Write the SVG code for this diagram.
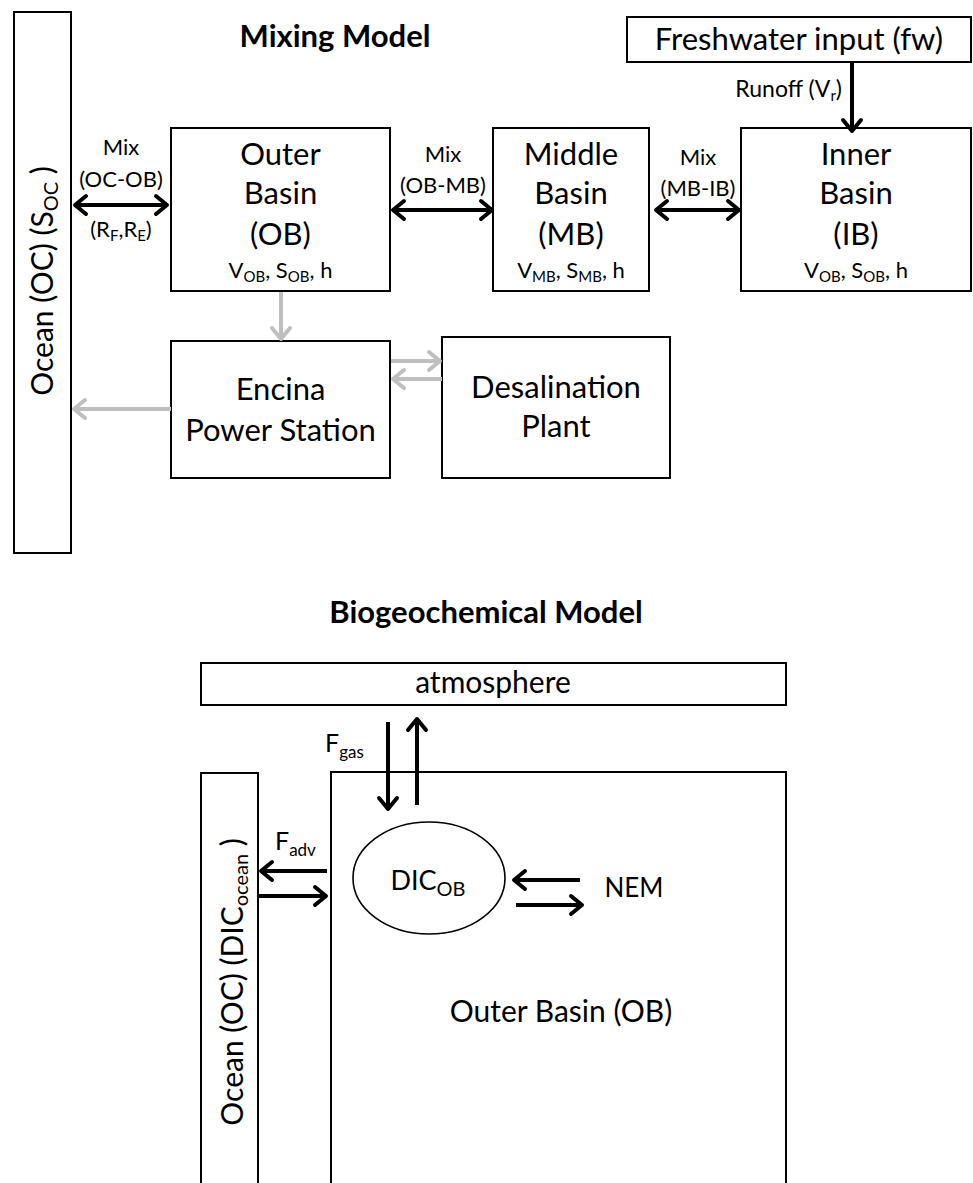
<svg xmlns="http://www.w3.org/2000/svg" width="973" height="1183" viewBox="0 0 973 1183">
<style>
text{font-family:Lato,"Open Sans","Liberation Sans",sans-serif;fill:#000;text-anchor:middle}
.box{fill:#fff;stroke:#000;stroke-width:2}
.big{font-size:31px}
.med{font-size:30px}
.sm{font-size:22px}
.xs{font-size:22px}
.title{font-size:31px;font-weight:bold}
.blk{fill:none;stroke:#000;stroke-width:4}
.gry{fill:none;stroke:#bfbfbf;stroke-width:4}
</style>
<defs>
<marker id="ab" viewBox="-16 -12 20 24" refX="0" refY="0" markerWidth="20" markerHeight="24" markerUnits="userSpaceOnUse" orient="auto-start-reverse" overflow="visible">
<path d="M-11,-9 L0,0 L-11,9" fill="none" stroke="#000" stroke-width="4" stroke-linecap="round" stroke-linejoin="round"/>
</marker>
<marker id="ag" viewBox="-16 -12 20 24" refX="0" refY="0" markerWidth="20" markerHeight="24" markerUnits="userSpaceOnUse" orient="auto-start-reverse" overflow="visible">
<path d="M-11,-9 L0,0 L-11,9" fill="none" stroke="#bfbfbf" stroke-width="4" stroke-linecap="round" stroke-linejoin="round"/>
</marker>
</defs>
<rect width="973" height="1183" fill="#fff"/>

<text class="title" x="335" y="47">Mixing Model</text>
<text class="title" x="486" y="623">Biogeochemical Model</text>

<g id="ocean-mix">
<rect class="box" x="14" y="12" width="57" height="541"/>
<text class="big" style="font-size:30px" transform="translate(53,281) rotate(-90)">Ocean (OC) (S<tspan font-size="20" dy="5">OC</tspan><tspan dy="-5"> )</tspan></text>
</g>
<g id="fw">
<rect class="box" x="627" y="17" width="344" height="45"/>
<text class="big" x="799" y="50">Freshwater input (fw)</text>
</g>
<g id="ob">
<rect class="box" x="171" y="128" width="219" height="163"/>
<text class="big" x="280.5" y="165">Outer</text>
<text class="big" x="280.5" y="204">Basin</text>
<text class="big" x="280.5" y="245">(OB)</text>
<text class="xs" x="280.5" y="278">V<tspan font-size="15" dy="4">OB</tspan><tspan dy="-4">, S</tspan><tspan font-size="15" dy="4">OB</tspan><tspan dy="-4">, h</tspan></text>
</g>
<g id="mb">
<rect class="box" x="493" y="128" width="156" height="163"/>
<text class="big" x="571" y="165">Middle</text>
<text class="big" x="571" y="204">Basin</text>
<text class="big" x="571" y="245">(MB)</text>
<text class="xs" x="571" y="278">V<tspan font-size="15" dy="4">MB</tspan><tspan dy="-4">, S</tspan><tspan font-size="15" dy="4">MB</tspan><tspan dy="-4">, h</tspan></text>
</g>
<g id="ib">
<rect class="box" x="741" y="128" width="230" height="163"/>
<text class="big" x="856" y="165">Inner</text>
<text class="big" x="856" y="204">Basin</text>
<text class="big" x="856" y="245">(IB)</text>
<text class="xs" x="856" y="278">V<tspan font-size="15" dy="4">OB</tspan><tspan dy="-4">, S</tspan><tspan font-size="15" dy="4">OB</tspan><tspan dy="-4">, h</tspan></text>
</g>
<g id="encina">
<rect class="box" x="171" y="341" width="219" height="137"/>
<text class="big" x="280.5" y="400">Encina</text>
<text class="big" x="280.5" y="441">Power Station</text>
</g>
<g id="desal">
<rect class="box" x="442" y="337" width="228" height="141"/>
<text class="big" x="556" y="398">Desalination</text>
<text class="big" x="556" y="437">Plant</text>
</g>

<g id="atm">
<rect class="box" x="201" y="663" width="585" height="42"/>
<text class="med" x="493" y="693">atmosphere</text>
</g>
<g id="ocean-bio">
<rect class="box" x="201" y="773" width="57" height="430"/>
<text class="big" style="font-size:30px" transform="translate(243,982) rotate(-90)">Ocean (OC) (DIC<tspan font-size="20" dy="5">ocean</tspan><tspan dy="-5"> )</tspan></text>
</g>
<g id="ob-bio">
<rect class="box" x="331" y="772" width="455" height="430"/>
<text class="med" x="561" y="1022">Outer Basin (OB)</text>
</g>
<g id="dic">
<ellipse cx="429" cy="878" rx="76" ry="56" fill="#fff" stroke="#000" stroke-width="1.6"/>
<text class="med" style="font-size:27px" x="428" y="890">DIC<tspan font-size="20" dy="6">OB</tspan></text>
</g>
<g id="nem">
<text class="med" style="font-size:26px" x="634" y="897">NEM</text>
</g>

<g id="connectors">
<path class="blk" d="M75,205 L167,205" marker-start="url(#ab)" marker-end="url(#ab)"/>
<path class="blk" d="M393,210 L492,210" marker-start="url(#ab)" marker-end="url(#ab)"/>
<path class="blk" d="M656,210 L739,210" marker-start="url(#ab)" marker-end="url(#ab)"/>
<path class="blk" d="M852,62 L852,131" marker-end="url(#ab)"/>
<path class="gry" d="M281,292 L281,339" marker-end="url(#ag)"/>
<path class="gry" d="M171,409 L74,409" marker-end="url(#ag)"/>
<path class="gry" d="M391,361 L440,361" marker-end="url(#ag)"/>
<path class="gry" d="M442,379 L393,379" marker-end="url(#ag)"/>
<path class="blk" d="M388,722 L388,809" marker-end="url(#ab)"/>
<path class="blk" d="M417,805 L417,719" marker-end="url(#ab)"/>
<path class="blk" d="M327,871 L261,871" marker-end="url(#ab)"/>
<path class="blk" d="M259,896 L326,896" marker-end="url(#ab)"/>
<path class="blk" d="M580,880 L514,880" marker-end="url(#ab)"/>
<path class="blk" d="M516,905 L582,905" marker-end="url(#ab)"/>
<text class="sm" x="121" y="155">Mix</text>
<text class="sm" x="121" y="187">(OC-OB)</text>
<text class="sm" x="121" y="237">(R<tspan font-size="15" dy="4">F</tspan><tspan dy="-4">,R</tspan><tspan font-size="15" dy="4">E</tspan><tspan dy="-4">)</tspan></text>
<text class="sm" x="443" y="162">Mix</text>
<text class="sm" x="443" y="193">(OB-MB)</text>
<text class="sm" x="698" y="165">Mix</text>
<text class="sm" x="698" y="196">(MB-IB)</text>
<text class="xs" x="842" y="97" style="text-anchor:end;font-size:23px">Runoff (V<tspan font-size="15" dy="4">r</tspan><tspan dy="-4">)</tspan></text>
<text class="sm" x="325" y="752" style="text-anchor:start;font-size:25px">F<tspan font-size="17" dy="6">gas</tspan></text>
<text class="sm" x="275" y="850" style="text-anchor:start;font-size:25px">F<tspan font-size="17" dy="6">adv</tspan></text>
</g>
</svg>
